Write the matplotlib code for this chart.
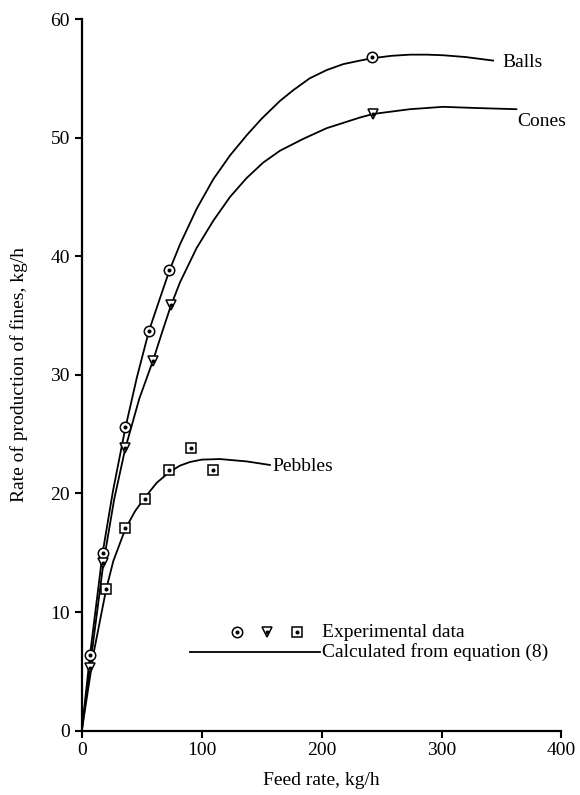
import matplotlib.pyplot as plt

plt.rcParams['font.family'] = ['Liberation Serif', 'DejaVu Serif']

# Experimental points (feed rate kg/h, rate of production of fines kg/h)
balls_x = [6.9, 17.4, 36.3, 56, 73.1, 242.4]
balls_y = [6.4, 15.0, 25.6, 33.7, 38.8, 56.8]
cones_x = [6.9, 18.0, 36, 59.4, 74.2, 243.0]
cones_y = [5.3, 14.1, 23.8, 31.2, 35.9, 52.0]
pebbles_x = [20.3, 36.3, 53, 73, 91, 109.4]
pebbles_y = [11.9, 17.1, 19.5, 22.0, 23.8, 22.0]

# Curves calculated from equation (8)
balls_fit_x = [0, 6.9, 17.4, 26, 36.3, 46, 56, 65, 73.1, 81.9, 95.8, 109.7, 123.6, 137.5,
               150, 165.3, 176.3, 190, 204.2, 218, 232, 242.4, 258, 273.6, 288, 301.3, 320, 343]
balls_fit_y = [0, 6.4, 15.0, 20.2, 25.5, 29.8, 33.7, 36.4, 38.8, 41.0, 44.0, 46.5, 48.5, 50.2,
               51.6, 53.1, 54.0, 55.0, 55.7, 56.2, 56.5, 56.7, 56.9, 57.0, 57.0, 56.95, 56.8, 56.5]
cones_fit_x = [0, 6.9, 18, 27, 36.3, 48, 59.4, 67, 74.2, 81.9, 95.8, 109.7, 123.6, 137.5,
               151.3, 165.3, 184.7, 204.2, 232, 243, 273.6, 301.3, 329, 362.4]
cones_fit_y = [0, 5.4, 14.1, 19.5, 23.8, 28.0, 31.2, 33.6, 35.8, 37.8, 40.7, 43.0, 45.0, 46.6,
               47.9, 48.9, 49.9, 50.8, 51.7, 52.0, 52.4, 52.6, 52.5, 52.4]
pebbles_fit_x = [0, 10, 20.3, 26.3, 36.3, 44.4, 53, 62.5, 73, 82, 90.2, 100, 115, 137.5, 156.9]
pebbles_fit_y = [0, 6.6, 11.9, 14.3, 17.0, 18.5, 19.7, 20.9, 21.8, 22.35, 22.65, 22.85, 22.9, 22.7, 22.4]

x_ticks = [0, 100, 200, 300, 400]
y_ticks = [0, 10, 20, 30, 40, 50, 60]

fs = 14
fig = plt.figure(figsize=(5.8, 7.95), dpi=100)
ax = fig.add_axes([0.141, 0.081, 0.827, 0.895])

lw = 1.3
for fx, fy in [(balls_fit_x, balls_fit_y), (cones_fit_x, cones_fit_y), (pebbles_fit_x, pebbles_fit_y)]:
    ax.plot(fx, fy, color='black', lw=lw, zorder=2, solid_joinstyle='round')

def points(x, y, marker, ms):
    ax.plot(x, y, linestyle='none', marker=marker, ms=ms, mfc='white', mec='black', mew=1.1, zorder=3)
    ax.plot(x, y, linestyle='none', marker='o', ms=1.9, color='black', zorder=4)

points(balls_x, balls_y, 'o', 7.5)
points(cones_x, cones_y, 'v', 7.5)
points(pebbles_x, pebbles_y, 's', 7.5)

ax.text(351, 56.3, 'Balls', fontsize=fs, va='center', ha='left')
ax.text(363, 51.4, 'Cones', fontsize=fs, va='center', ha='left')
ax.text(159, 22.3, 'Pebbles', fontsize=fs, va='center', ha='left')

# Key
points([129.4], [8.3], 'o', 7.5)
points([154.4], [8.3], 'v', 7.5)
points([179.4], [8.3], 's', 7.5)
ax.text(200.3, 8.3, 'Experimental data', fontsize=fs, va='center', ha='left')
ax.plot([90.2, 198.6], [6.6, 6.6], color='black', lw=lw)
ax.text(200.3, 6.6, 'Calculated from equation (8)', fontsize=fs, va='center', ha='left')

ax.set_xlim(0, 400)
ax.set_ylim(0, 60)
ax.set_xticks(x_ticks)
ax.set_yticks(y_ticks)
ax.tick_params(direction='out', length=5, width=1.5, labelsize=fs)
ax.spines['top'].set_visible(False)
ax.spines['right'].set_visible(False)
ax.spines['left'].set_linewidth(1.6)
ax.spines['bottom'].set_linewidth(1.6)
ax.set_xlabel('Feed rate, kg/h', fontsize=fs, labelpad=9)
ax.set_ylabel('Rate of production of fines, kg/h', fontsize=fs, labelpad=16)

fig.savefig('out.png', dpi=100)
